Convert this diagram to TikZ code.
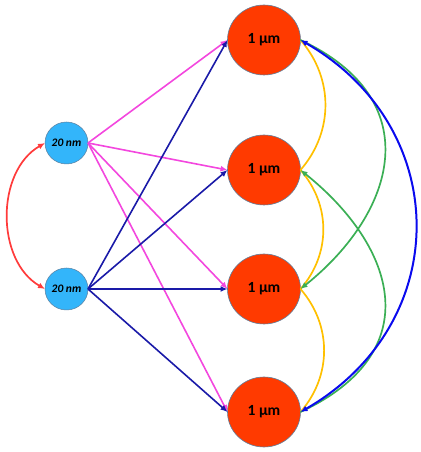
\documentclass[tikz,border=0pt]{standalone}
\usepackage{fontspec}
\setmainfont{Carlito}
\usetikzlibrary{arrows.meta,shapes.geometric}
\definecolor{bigfill}{HTML}{FF3A00}
\definecolor{smallfill}{HTML}{33B5FA}
\definecolor{rim}{HTML}{5E7F9E}
\definecolor{pinkc}{HTML}{F347DE}
\definecolor{navyc}{HTML}{1A1AA8}
\definecolor{redc}{HTML}{FF3B3B}
\definecolor{yellowc}{HTML}{FFC000}
\definecolor{greenc}{HTML}{3BAF55}
\definecolor{bluec}{HTML}{0A0AEE}
\tikzset{
  bignode/.style={ellipse, draw=rim, line width=0.6pt, fill=bigfill, minimum width=73pt, minimum height=70pt, inner sep=0pt, outer sep=0pt, font=\fontsize{15.5}{17}\selectfont\bfseries},
  smallnode/.style={ellipse, draw=rim, line width=0.5pt, fill=smallfill, minimum width=43pt, minimum height=42pt, inner sep=0pt, outer sep=0pt, font=\fontsize{11.5}{13}\selectfont\bfseries\itshape},
  tip/.style={-{Latex[length=7pt,width=6pt]}},
  pinkarr/.style={tip, draw=pinkc, line width=1.6pt},
  navyarr/.style={tip, draw=navyc, line width=1.6pt},
  redarr/.style={{Latex[length=7pt,width=6pt]}-{Latex[length=7pt,width=6pt]}, draw=redc, line width=1.7pt},
  yelarc/.style={draw=yellowc, line width=1.7pt},
  greenarr/.style={tip, draw=greenc, line width=1.7pt},
  bluearr/.style={{Latex[length=7pt,width=6pt]}-{Latex[length=7pt,width=6pt]}, draw=bluec, line width=2pt},
}
\begin{document}
\begin{tikzpicture}[x=1pt,y=1pt]
\useasboundingbox (0,0) rectangle (420,452);
\node[smallnode] (s1) at (66.5,309) {20 nm};
\node[smallnode] (s2) at (66.5,163) {20 nm};
\node[bignode] (b1) at (264,412) {1 µm};
\node[bignode] (b2) at (264,282) {1 µm};
\node[bignode] (b3) at (264,163) {1 µm};
\node[bignode] (b4) at (264,40) {1 µm};
% red
\draw[redarr] (s1.west) to[bend right=60] (s2.west);
% yellow
\draw[yelarc] (b1.east) to[bend left=41] (b2.east);
\draw[yelarc] (b2.east) to[bend left=41] (b3.east);
\draw[yelarc] (b3.east) to[bend left=41] (b4.east);
% green
\draw[greenarr] (b1.east) .. controls +(128,-60) and +(96,77) .. (b3.east);
\draw[greenarr] (b4.east) .. controls +(128,60) and +(96,-77) .. (b2.east);
% blue
\draw[bluearr] (b1.east) .. controls +(153,-88) and +(153,88) .. (b4.east);
% pink
\foreach \t in {b1,b2,b3,b4} \draw[pinkarr] (s1.east) -- (\t.west);
% navy
\foreach \t in {b1,b2,b3,b4} \draw[navyarr] (s2.east) -- (\t.west);
\end{tikzpicture}
\end{document}
